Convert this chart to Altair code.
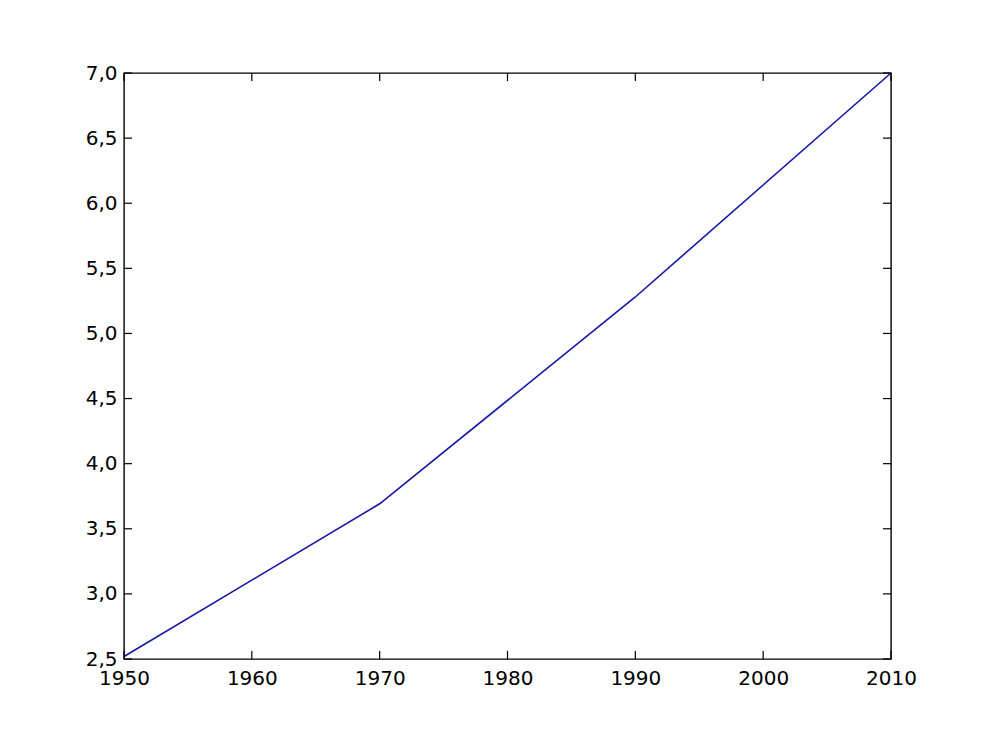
import altair as alt
import pandas as pd

# world population (billions)
years = [1950, 1970, 1990, 2010]
population = [2.519, 3.692, 5.28, 7.0]

x_ticks = [1950, 1960, 1970, 1980, 1990, 2000, 2010]
y_ticks = [2.5, 3.0, 3.5, 4.0, 4.5, 5.0, 5.5, 6.0, 6.5, 7.0]

W, H = 767, 586
TICK = 8

df = pd.DataFrame({"year": years, "pop": population})
xt = pd.DataFrame({"year": x_ticks})
yt = pd.DataFrame({"pop": y_ticks})

x_scale = alt.Scale(domain=[1950, 2010], nice=False, zero=False)
y_scale = alt.Scale(domain=[2.5, 7.0], nice=False, zero=False)

line = alt.Chart(df).mark_line(color="#1616a8", strokeWidth=1.6).encode(
    x=alt.X(
        "year:Q",
        scale=x_scale,
        title=None,
        axis=alt.Axis(
            values=x_ticks, format="d", ticks=False, domain=False, grid=False,
            labelPadding=9, labelFontSize=20, labelColor="black",
            labelFont="DejaVu Sans", labelFlush=False,
        ),
    ),
    y=alt.Y(
        "pop:Q",
        scale=y_scale,
        title=None,
        axis=alt.Axis(
            values=y_ticks, ticks=False, domain=False, grid=False,
            labelExpr="replace(format(datum.value, '.1f'), '.', ',')",
            labelPadding=7, labelFontSize=20, labelColor="black",
            labelFont="DejaVu Sans", labelFlush=False,
        ),
    ),
)

tick_style = dict(color="black", strokeWidth=1.2)

bottom_ticks = alt.Chart(xt).mark_rule(**tick_style).encode(
    x=alt.X("year:Q", scale=x_scale), y=alt.value(H), y2=alt.value(H - TICK)
)
top_ticks = alt.Chart(xt).mark_rule(**tick_style).encode(
    x=alt.X("year:Q", scale=x_scale), y=alt.value(0), y2=alt.value(TICK)
)
left_ticks = alt.Chart(yt).mark_rule(**tick_style).encode(
    y=alt.Y("pop:Q", scale=y_scale), x=alt.value(0), x2=alt.value(TICK)
)
right_ticks = alt.Chart(yt).mark_rule(**tick_style).encode(
    y=alt.Y("pop:Q", scale=y_scale), x=alt.value(W), x2=alt.value(W - TICK)
)

chart = (
    alt.layer(line, bottom_ticks, top_ticks, left_ticks, right_ticks)
    .properties(
        width=W,
        height=H,
        autosize=alt.AutoSizeParams(type="none"),
        padding={"left": 116, "top": 65, "right": 80, "bottom": 60},
        background="white",
    )
    .configure_view(stroke="black", strokeWidth=1.4)
)

chart.save("out.html", embed_options={"renderer": "svg", "actions": False})
